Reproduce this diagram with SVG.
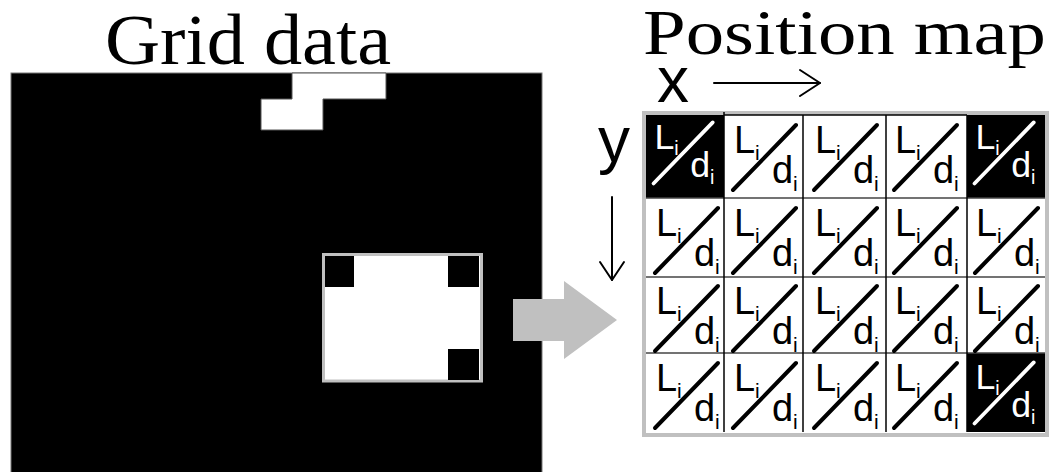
<svg xmlns="http://www.w3.org/2000/svg" xmlns:xlink="http://www.w3.org/1999/xlink" width="1051" height="472" viewBox="0 0 1051 472">
  <style>
    .title { font-family: "Liberation Serif", "Times New Roman", serif; fill: #000; }
    .axis { font-family: "Liberation Sans", Arial, sans-serif; fill: #000; font-size: 64px; }
    .big { font-family: "Liberation Sans", Arial, sans-serif; font-size: 38px; }
    .sub { font-family: "Liberation Sans", Arial, sans-serif; font-size: 21px; }
    .light { color: #000; }
    .dark { color: #fff; }
    .slash { stroke-width: 4; stroke-linecap: round; }
    .grid { stroke: #000; stroke-width: 1.5; }
  </style>
  <defs>
    <!-- one position-map cell: L_i over d_i split by a diagonal; colour comes from the cell group -->
    <g id="cellContent">
      <text class="big" x="9" y="38" fill="currentColor">L</text>
      <text class="sub" x="30" y="45" fill="currentColor">i</text>
      <line class="slash" x1="8" y1="75" x2="71" y2="10" stroke="currentColor"/>
      <text class="big" x="47" y="68" fill="currentColor">d</text>
      <text class="sub" x="68" y="76" fill="currentColor">i</text>
    </g>
  </defs>

  <rect width="1051" height="472" fill="#fff"/>

  <!-- titles -->
  <text class="title" x="105" y="64" font-size="72" textLength="286" lengthAdjust="spacingAndGlyphs">Grid data</text>
  <text class="title" x="643" y="54" font-size="64" textLength="403" lengthAdjust="spacingAndGlyphs">Position map</text>

  <!-- grid data panel -->
  <g id="grid-data">
    <rect x="11" y="73" width="531" height="400" fill="#000" stroke="#777" stroke-width="1"/>
    <polygon points="292,73 386,73 386,99 323,99 323,130 261,130 261,99 292,99" fill="#fff" stroke="#555" stroke-width="1"/>
  </g>

  <!-- highlighted window inside the grid -->
  <g id="window">
    <rect x="323.5" y="254.5" width="158" height="126.5" fill="#fff" stroke="#c0c0c0" stroke-width="3"/>
    <rect x="325" y="256" width="29" height="31" fill="#000"/>
    <rect x="448" y="256" width="31" height="31" fill="#000"/>
    <rect x="448" y="349" width="31" height="31" fill="#000"/>
  </g>

  <!-- connectors: transfer arrow and axis arrows -->
  <g id="connectors">
    <polygon points="513,299 564,299 564,281 617,320 564,359 564,341 513,341" fill="#c0c0c0"/>
    <g fill="none" stroke="#000" stroke-width="2" stroke-linecap="round" stroke-linejoin="round">
      <line x1="714" y1="83" x2="820" y2="83"/>
      <polyline points="800,70 820,83 800,96"/>
      <line x1="612" y1="197" x2="612" y2="280"/>
      <polyline points="600,262 612,280 624,262"/>
    </g>
  </g>

  <!-- axis labels -->
  <g id="axis-labels">
    <text class="axis" x="657" y="102">x</text>
    <text class="axis" x="598" y="162">y</text>
  </g>

  <!-- position map table -->
  <g id="position-map">
    <rect x="644" y="113" width="403" height="322" fill="#fff" stroke="#c0c0c0" stroke-width="4"/>
    <rect x="646" y="115" width="78" height="83" fill="#000"/>
    <rect x="967" y="115" width="78" height="83" fill="#000"/>
    <rect x="967" y="353" width="78" height="79" fill="#000"/>
    <g class="grid">
      <line x1="724" y1="115" x2="967" y2="115"/>
      <line x1="646" y1="198" x2="1045" y2="198" stroke="#444"/>
      <line x1="646" y1="277" x2="1045" y2="277" stroke="#444"/>
      <line x1="646" y1="353" x2="1045" y2="353" stroke="#444"/>
      <line x1="724" y1="112" x2="724" y2="432"/>
      <line x1="803" y1="115" x2="803" y2="432"/>
      <line x1="886" y1="115" x2="886" y2="432"/>
      <line x1="967" y1="115" x2="967" y2="432"/>
    </g>

    <!-- row 1 -->
    <g id="cell-1-1" class="dark"><use xlink:href="#cellContent" transform="translate(646,113) scale(0.94)"/></g>
    <g id="cell-1-2" class="light"><use xlink:href="#cellContent" transform="translate(725,115)"/></g>
    <g id="cell-1-3" class="light"><use xlink:href="#cellContent" transform="translate(806,115)"/></g>
    <g id="cell-1-4" class="light"><use xlink:href="#cellContent" transform="translate(886,115)"/></g>
    <g id="cell-1-5" class="dark"><use xlink:href="#cellContent" transform="translate(967,113) scale(0.94)"/></g>
    <!-- row 2 -->
    <g id="cell-2-1" class="light"><use xlink:href="#cellContent" transform="translate(647,198)"/></g>
    <g id="cell-2-2" class="light"><use xlink:href="#cellContent" transform="translate(725,198)"/></g>
    <g id="cell-2-3" class="light"><use xlink:href="#cellContent" transform="translate(806,198)"/></g>
    <g id="cell-2-4" class="light"><use xlink:href="#cellContent" transform="translate(886,198)"/></g>
    <g id="cell-2-5" class="light"><use xlink:href="#cellContent" transform="translate(967,198)"/></g>
    <!-- row 3 -->
    <g id="cell-3-1" class="light"><use xlink:href="#cellContent" transform="translate(647,276)"/></g>
    <g id="cell-3-2" class="light"><use xlink:href="#cellContent" transform="translate(725,276)"/></g>
    <g id="cell-3-3" class="light"><use xlink:href="#cellContent" transform="translate(806,276)"/></g>
    <g id="cell-3-4" class="light"><use xlink:href="#cellContent" transform="translate(886,276)"/></g>
    <g id="cell-3-5" class="light"><use xlink:href="#cellContent" transform="translate(967,276)"/></g>
    <!-- row 4 -->
    <g id="cell-4-1" class="light"><use xlink:href="#cellContent" transform="translate(647,353)"/></g>
    <g id="cell-4-2" class="light"><use xlink:href="#cellContent" transform="translate(725,353)"/></g>
    <g id="cell-4-3" class="light"><use xlink:href="#cellContent" transform="translate(806,353)"/></g>
    <g id="cell-4-4" class="light"><use xlink:href="#cellContent" transform="translate(886,353)"/></g>
    <g id="cell-4-5" class="dark"><use xlink:href="#cellContent" transform="translate(967,353) scale(0.94)"/></g>
  </g>
</svg>
